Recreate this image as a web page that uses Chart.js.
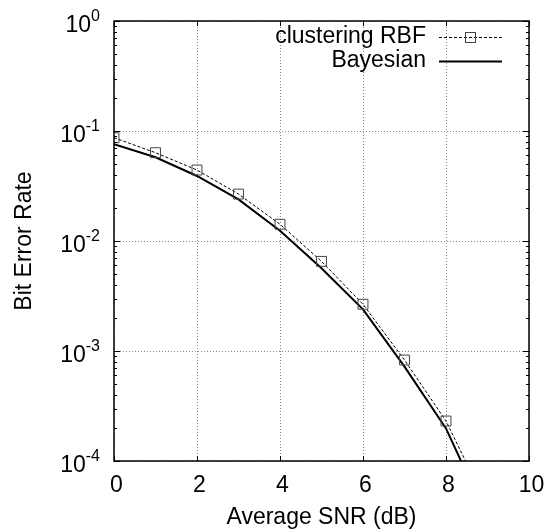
<!DOCTYPE html>
<html>
<head>
<meta charset="utf-8">
<script src="https://cdn.jsdelivr.net/npm/chart.js@4.4.1/dist/chart.umd.min.js"></script>
<style>
  html, body { margin: 0; padding: 0; background: #fff; }
  #wrap { width: 555px; height: 532px; }
</style>
</head>
<body>
<div id="wrap"><canvas id="ber" width="555" height="532"></canvas></div>
<script>
// values (log scale)
const snrDb = [0, 1, 2, 3, 4, 5, 6, 7, 8, 9];
const berRbf = [0.0869, 0.0635, 0.0442, 0.0267, 0.0142, 0.00653, 0.00266, 0.000828, 0.000231, 0.000039];
const berBayes = [0.0757, 0.0577, 0.039, 0.0239, 0.0124, 0.00565, 0.00239, 0.00072, 0.000198, 0.00003];
const xTicks = [0, 2, 4, 6, 8, 10];
const yTicks = [1e-4, 1e-3, 1e-2, 1e-1, 1];
const yTickExp = ['-4', '-3', '-2', '-1', '0'];
const seriesNames = ['clustering RBF', 'Bayesian'];

const FONT = '"Liberation Sans", Arial, Helvetica, sans-serif';

// frame, inner ticks, labels, titles and key (gnuplot look)
const gnuplotDecor = {
    id: 'gnuplotDecor',
    afterDraw(chart) {
        const ctx = chart.ctx;
        const a = chart.chartArea;
        const xs = chart.scales.x, ys = chart.scales.y;
        ctx.save();

        // inner ticks
        ctx.strokeStyle = '#000';
        ctx.lineWidth = 1;
        ctx.beginPath();
        xTicks.forEach(v => {
            const px = Math.round(xs.getPixelForValue(v)) + 0.5;
            ctx.moveTo(px, a.bottom); ctx.lineTo(px, a.bottom - 5);
            ctx.moveTo(px, a.top); ctx.lineTo(px, a.top + 5);
        });
        yTicks.forEach((v, i) => {
            const py = Math.round(ys.getPixelForValue(v)) + 0.5;
            ctx.moveTo(a.left, py); ctx.lineTo(a.left + 6, py);
            ctx.moveTo(a.right, py); ctx.lineTo(a.right - 6, py);
            if (i < yTicks.length - 1) {
                for (let m = 2; m <= 9; m++) {
                    const pm = Math.round(ys.getPixelForValue(v * m)) + 0.5;
                    ctx.moveTo(a.left, pm); ctx.lineTo(a.left + 3, pm);
                    ctx.moveTo(a.right, pm); ctx.lineTo(a.right - 3, pm);
                }
            }
        });
        ctx.stroke();

        // frame
        ctx.lineWidth = 1.5;
        ctx.strokeRect(a.left, a.top, a.right - a.left, a.bottom - a.top);

        ctx.fillStyle = '#000';
        // x tick labels
        ctx.font = '23px ' + FONT;
        ctx.textAlign = 'center';
        ctx.textBaseline = 'middle';
        xTicks.forEach(v => {
            ctx.fillText(String(v), xs.getPixelForValue(v) + 2.5, a.bottom + 25);
        });

        // y tick labels 10^n, right-aligned
        ctx.textBaseline = 'alphabetic';
        ctx.textAlign = 'left';
        yTicks.forEach((v, i) => {
            const py = ys.getPixelForValue(v);
            ctx.font = '16px ' + FONT;
            const we = ctx.measureText(yTickExp[i]).width;
            ctx.font = '23px ' + FONT;
            const wb = ctx.measureText('10').width;
            const x0 = 100 - we - wb;
            ctx.fillText('10', x0, py + 10.5);
            ctx.font = '16px ' + FONT;
            ctx.fillText(yTickExp[i], x0 + wb, py - 0.3);
        });

        // axis titles
        ctx.font = '23px ' + FONT;
        ctx.textAlign = 'center';
        ctx.textBaseline = 'middle';
        ctx.fillText('Average SNR (dB)', (a.left + a.right) / 2, 518);
        ctx.save();
        ctx.translate(25, (a.top + a.bottom) / 2);
        ctx.rotate(-Math.PI / 2);
        ctx.fillText('Bit Error Rate', 0, 0);
        ctx.restore();

        // key
        const keyTextX = 426, lineX0 = 439, lineX1 = 502;
        const rows = [37, 61];
        ctx.textAlign = 'right';
        ctx.textBaseline = 'middle';
        seriesNames.forEach((name, i) => ctx.fillText(name, keyTextX, rows[i]));

        ctx.strokeStyle = '#000';
        ctx.lineWidth = 1;
        ctx.setLineDash([3, 2]);
        ctx.beginPath();
        ctx.moveTo(lineX0, rows[0] + 0.5); ctx.lineTo(lineX1, rows[0] + 0.5);
        ctx.stroke();
        ctx.setLineDash([]);
        ctx.strokeStyle = '#444';
        ctx.strokeRect((lineX0 + lineX1) / 2 - 5, rows[0] - 4.5, 10, 10);

        ctx.strokeStyle = '#000';
        ctx.lineWidth = 2;
        ctx.beginPath();
        ctx.moveTo(lineX0, rows[1] + 0.5); ctx.lineTo(lineX1, rows[1] + 0.5);
        ctx.stroke();

        ctx.restore();
    }
};

const toPoints = ys => snrDb.map((x, i) => ({ x: x, y: ys[i] }));

new Chart(document.getElementById('ber'), {
    type: 'line',
    data: {
        datasets: [
            {
                label: seriesNames[0],
                data: toPoints(berRbf),
                borderColor: '#000',
                borderWidth: 1,
                borderDash: [3, 2],
                pointStyle: 'rect',
                pointRadius: 7,
                pointBorderColor: '#444',
                pointBorderWidth: 1,
                pointBackgroundColor: 'rgba(0,0,0,0)',
                tension: 0,
                clip: 0
            },
            {
                label: seriesNames[1],
                data: toPoints(berBayes),
                borderColor: '#000',
                borderWidth: 2,
                pointRadius: 0,
                tension: 0,
                clip: 0
            }
        ]
    },
    options: {
        responsive: false,
        devicePixelRatio: 1,
        animation: false,
        layout: { padding: { left: 114, right: 26, top: 21, bottom: 71 } },
        plugins: { legend: { display: false }, tooltip: { enabled: false } },
        scales: {
            x: {
                type: 'linear',
                min: 0,
                max: 10,
                afterBuildTicks: s => { s.ticks = xTicks.map(v => ({ value: v })); },
                ticks: { display: false },
                grid: { color: '#888', lineWidth: 1, drawTicks: false },
                border: { display: false, dash: [1, 2] }
            },
            y: {
                type: 'logarithmic',
                min: 1e-4,
                max: 1,
                afterBuildTicks: s => { s.ticks = yTicks.map(v => ({ value: v })); },
                ticks: { display: false },
                grid: { color: '#888', lineWidth: 1, drawTicks: false },
                border: { display: false, dash: [1, 2] }
            }
        }
    },
    plugins: [gnuplotDecor]
});
</script>
</body>
</html>
